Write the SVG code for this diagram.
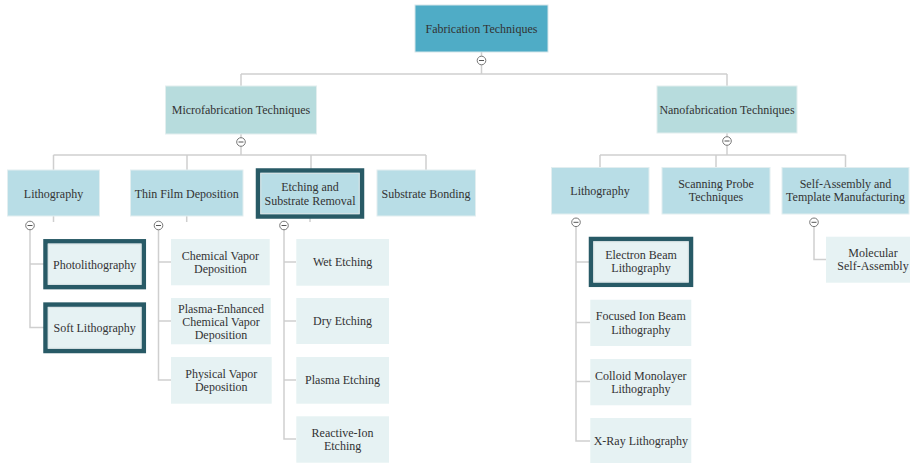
<svg xmlns="http://www.w3.org/2000/svg" width="910" height="463" viewBox="0 0 910 463">
<style>
text{font-family:"Liberation Serif","Times New Roman",serif;font-size:12px;fill:#333;text-anchor:middle}
.root{fill:#4facc6;stroke:#d6e6ea;stroke-width:1}
.l1{fill:#b7dcdd;stroke:#e2eeee;stroke-width:1}
.l2{fill:#b8dde6;stroke:#e2eef0;stroke-width:1}
.leaf{fill:#e6f2f3}
.hl{stroke:#285a66;stroke-width:4.5}
.hin{fill:none;stroke:#d9e3e5;stroke-width:1}
.ln{fill:none;stroke:#cfcfcf;stroke-width:1.5}
.tg circle{fill:#fff;stroke:#777;stroke-width:1}
.tg line{stroke:#555;stroke-width:1}
</style>
<g id="connectors">
<path class="ln" d="M481.5 52V74M241 74H727M241 74V86M727 74V86"/>
<path class="ln" d="M241 134V155M53.5 155H426M53.5 155V170M187 155V170M311 155V170M426 155V170"/>
<path class="ln" d="M727 133V155M600 155H845.5M600 155V167M716 155V167M845.5 155V167"/>
<path class="ln" d="M53.5 216V222M30 226V327.5H45M30 264H45"/>
<path class="ln" d="M186.7 216V222M158.5 226V380H171M158.5 262H171M158.5 321H171"/>
<path class="ln" d="M310 216V222M284 226V439H296M284 262H296M284 321H296M284 380H296"/>
<path class="ln" d="M576 226V441H590M576 262H590M576 322.5H590M576 381.5H590"/>
<path class="ln" d="M814 226V259.5H826"/>
</g>
<g id="toggles" class="tg">
<g><circle cx="481.5" cy="60.5" r="4.3"/><line x1="479" y1="60.5" x2="484" y2="60.5"/></g>
<g><circle cx="241" cy="142" r="4.3"/><line x1="238.5" y1="142" x2="243.5" y2="142"/></g>
<g><circle cx="727" cy="141" r="4.3"/><line x1="724.5" y1="141" x2="729.5" y2="141"/></g>
<g><circle cx="30" cy="225.5" r="4.3"/><line x1="27.5" y1="225.5" x2="32.5" y2="225.5"/></g>
<g><circle cx="158.5" cy="225.5" r="4.3"/><line x1="156" y1="225.5" x2="161" y2="225.5"/></g>
<g><circle cx="284" cy="225.5" r="4.3"/><line x1="281.5" y1="225.5" x2="286.5" y2="225.5"/></g>
<g><circle cx="576" cy="222.3" r="4.3"/><line x1="573.5" y1="222.3" x2="578.5" y2="222.3"/></g>
<g><circle cx="814" cy="222.3" r="4.3"/><line x1="811.5" y1="222.3" x2="816.5" y2="222.3"/></g>
</g>
<g id="n-root"><rect class="root" x="415" y="5" width="133" height="47"/><text x="481.5" y="33">Fabrication Techniques</text></g>
<g id="n-micro"><rect class="l1" x="165.5" y="86" width="151" height="48"/><text x="241" y="114">Microfabrication Techniques</text></g>
<g id="n-nano"><rect class="l1" x="657" y="86" width="140" height="47"/><text x="727" y="114">Nanofabrication Techniques</text></g>
<g id="n-litho-micro"><rect class="l2" x="7.5" y="170" width="92" height="46"/><text x="53.5" y="197.5">Lithography</text></g>
<g id="n-thinfilm"><rect class="l2" x="130.5" y="170" width="112.5" height="46"/><text x="186.7" y="197.5">Thin Film Deposition</text></g>
<g id="n-etching"><rect class="l2 hl" x="258" y="170.5" width="104" height="46"/><rect class="hin" x="260.8" y="173.3" width="98.4" height="40.4"/><text x="310" y="190.5">Etching and</text><text x="310" y="204.5">Substrate Removal</text></g>
<g id="n-bonding"><rect class="l2" x="377" y="170" width="98.5" height="46"/><text x="426" y="197.5">Substrate Bonding</text></g>
<g id="n-litho-nano"><rect class="l2" x="551.5" y="167.5" width="97.5" height="46.5"/><text x="600" y="195">Lithography</text></g>
<g id="n-spm"><rect class="l2" x="662" y="167.5" width="108" height="46.5"/><text x="716" y="188">Scanning Probe</text><text x="716" y="201">Techniques</text></g>
<g id="n-selfassembly"><rect class="l2" x="782" y="167.5" width="127" height="46.5"/><text x="845.5" y="188">Self-Assembly and</text><text x="845.5" y="201">Template Manufacturing</text></g>
<g id="n-photolitho"><rect class="leaf hl" x="45.5" y="241.3" width="98.3" height="45.8"/><rect class="hin" x="48.3" y="244.1" width="92.7" height="40.2"/><text x="94.7" y="269">Photolithography</text></g>
<g id="n-softlitho"><rect class="leaf hl" x="45.5" y="304.6" width="98.3" height="46.4"/><rect class="hin" x="48.3" y="307.4" width="92.7" height="40.8"/><text x="94.7" y="331.5">Soft Lithography</text></g>
<g id="n-cvd"><rect class="leaf" x="171" y="239" width="98.7" height="46.3"/><text x="220.4" y="260">Chemical Vapor</text><text x="220.4" y="273">Deposition</text></g>
<g id="n-pecvd"><rect class="leaf" x="171" y="298" width="99.7" height="46.3"/><text x="221" y="312.5">Plasma-Enhanced</text><text x="221" y="325.5">Chemical Vapor</text><text x="221" y="338.5">Deposition</text></g>
<g id="n-pvd"><rect class="leaf" x="171" y="357" width="100.7" height="46.7"/><text x="221.3" y="378">Physical Vapor</text><text x="221.3" y="391">Deposition</text></g>
<g id="n-wet"><rect class="leaf" x="296.3" y="239" width="92.7" height="46.7"/><text x="342.6" y="266">Wet Etching</text></g>
<g id="n-dry"><rect class="leaf" x="296.3" y="298" width="92.7" height="46"/><text x="342.6" y="325">Dry Etching</text></g>
<g id="n-plasma"><rect class="leaf" x="296.3" y="357" width="92.7" height="46.7"/><text x="342.6" y="384">Plasma Etching</text></g>
<g id="n-rie"><rect class="leaf" x="296.3" y="416.3" width="92.7" height="46.4"/><text x="342.6" y="437">Reactive-Ion</text><text x="342.6" y="450">Etching</text></g>
<g id="n-ebl"><rect class="leaf hl" x="591" y="239" width="100" height="45.8"/><rect class="hin" x="593.8" y="241.8" width="94.4" height="40.2"/><text x="641" y="259">Electron Beam</text><text x="641" y="272">Lithography</text></g>
<g id="n-fib"><rect class="leaf" x="590.3" y="299.7" width="101" height="46.3"/><text x="640.8" y="320">Focused Ion Beam</text><text x="640.8" y="333.5">Lithography</text></g>
<g id="n-colloid"><rect class="leaf" x="590.3" y="359" width="101" height="46.3"/><text x="640.8" y="379.5">Colloid Monolayer</text><text x="640.8" y="393">Lithography</text></g>
<g id="n-xray"><rect class="leaf" x="590.3" y="418" width="101" height="45.3"/><text x="640.8" y="445">X-Ray Lithography</text></g>
<g id="n-molecular"><rect class="leaf" x="826" y="236.7" width="95" height="46"/><text x="873" y="256.5">Molecular</text><text x="873" y="270">Self-Assembly</text></g>
</svg>
